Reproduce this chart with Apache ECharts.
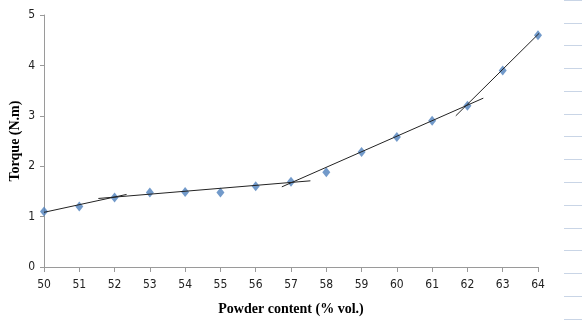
<!DOCTYPE html>
<html>
<head>
<meta charset="utf-8">
<script src="https://cdn.jsdelivr.net/npm/echarts@6/dist/echarts.min.js"></script>
<style>html,body{margin:0;padding:0;background:#fff;}#c{width:582px;height:322px;}</style>
</head>
<body>
<div id="c"></div>
<script>
var powder = [50, 51, 52, 53, 54, 55, 56, 57, 58, 59, 60, 61, 62, 63, 64];
var torque = [1.1, 1.2, 1.38, 1.48, 1.49, 1.48, 1.6, 1.69, 1.88, 2.28, 2.58, 2.9, 3.2, 3.9, 4.6];
var trend1 = [[50, 1.085], [52.34, 1.44]];
var trend2 = [[51.54, 1.36], [57.55, 1.71]];
var trend3 = [[56.74, 1.59], [62.45, 3.35]];
var trend4 = [[61.67, 3.0], [64.21, 4.76]];
var xTicks = [50, 51, 52, 53, 54, 55, 56, 57, 58, 59, 60, 61, 62, 63, 64];
var yTicks = [0, 1, 2, 3, 4, 5];

var chart = echarts.init(document.getElementById('c'));
var pts = powder.map(function (x, i) { return [x, torque[i]]; });
function trend(d) {
  return {type: 'line', data: d, symbol: 'none', xAxisIndex: 0, yAxisIndex: 0, clip: false,
    lineStyle: {color: '#222', width: 1}, z: 3, silent: true};
}
var tickFont = {fontFamily: 'DejaVu Sans Condensed, Liberation Sans', fontSize: 12, color: '#222'};
chart.setOption({
  animation: false,
  grid: [
    {left: 44, right: 44, top: 15, bottom: 55, outerBoundsMode: 'none', containLabel: false},
    {left: 564, right: 0, top: 0, height: 319, outerBoundsMode: 'none', containLabel: false}
  ],
  xAxis: [{
    type: 'value', gridIndex: 0, min: 50, max: 64, interval: 1,
    name: 'Powder content (% vol.)', nameLocation: 'middle', nameGap: 35, nameMoveOverlap: false,
    nameTextStyle: {fontFamily: 'Liberation Serif', fontWeight: 'bold', fontSize: 14, color: '#000'},
    axisLine: {lineStyle: {color: '#9a9a9a'}},
    axisTick: {show: true, length: 5, lineStyle: {color: '#9a9a9a'}},
    axisLabel: Object.assign({margin: 12, formatter: function (v) { return xTicks.indexOf(v) >= 0 ? String(v) : ''; }}, tickFont),
    splitLine: {show: false}
  }, {
    type: 'value', gridIndex: 1, show: false
  }],
  yAxis: [{
    type: 'value', gridIndex: 0, min: 0, max: 5, interval: 1,
    name: 'Torque (N.m)', nameLocation: 'middle', nameGap: 22, nameRotate: 90, nameMoveOverlap: false,
    nameTextStyle: {fontFamily: 'Liberation Serif', fontWeight: 'bold', fontSize: 14, color: '#000'},
    axisLine: {show: true, lineStyle: {color: '#9a9a9a'}},
    axisTick: {show: true, length: 4, lineStyle: {color: '#9a9a9a'}},
    axisLabel: Object.assign({margin: 9, formatter: function (v) { return yTicks.indexOf(v) >= 0 ? String(v) : ''; }}, tickFont),
    splitLine: {show: false}
  }, {
    type: 'value', gridIndex: 1, min: 0, max: 14, interval: 1,
    axisLine: {show: false}, axisTick: {show: false}, axisLabel: {show: false},
    splitLine: {show: true, lineStyle: {color: '#c9d5e6', width: 1}}
  }],
  series: [
    trend(trend1), trend(trend2), trend(trend3), trend(trend4),
    {type: 'scatter', data: pts, symbol: 'diamond', symbolSize: [8, 10],
      itemStyle: {color: '#4f81bd'}, z: 2, xAxisIndex: 0, yAxisIndex: 0}
  ]
});
</script>
</body>
</html>
